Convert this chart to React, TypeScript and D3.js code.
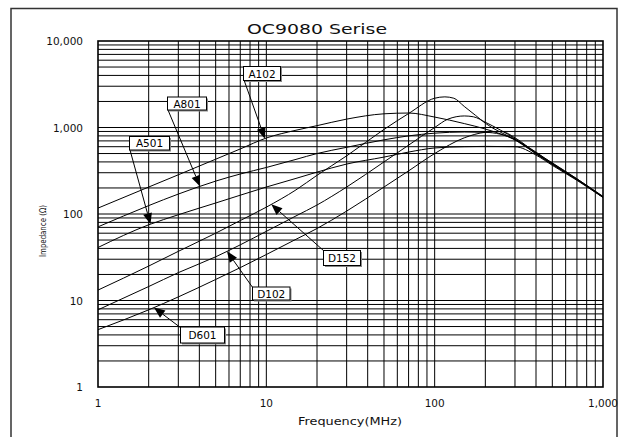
import * as d3 from 'd3';

type Pt = [number, number];

// impedance curves, [frequency MHz, impedance ohm]
const A102: Pt[] = [[1, 117], [2, 205], [3, 284], [5, 430], [7, 565], [10, 756], [15, 930], [20, 1050], [30, 1250], [50, 1440], [70, 1470], [100, 1320], [150, 1110], [200, 960], [300, 720], [400, 520], [500, 385], [700, 255], [1000, 158]];
const A801: Pt[] = [[1, 71], [2, 125], [3, 170], [5, 240], [7, 290], [10, 345], [15, 428], [20, 500], [30, 590], [50, 720], [70, 800], [100, 860], [150, 887], [200, 880], [300, 730], [400, 505], [500, 375], [700, 250], [1000, 157]];
const A501: Pt[] = [[1, 41], [2, 75], [3, 98], [5, 134], [7, 165], [10, 205], [15, 258], [20, 305], [30, 378], [50, 455], [70, 520], [100, 580], [150, 600], [200, 605], [300, 600], [400, 480], [500, 365], [700, 245], [1000, 155]];
const D152: Pt[] = [[1, 13.2], [2, 25], [3, 37], [5, 60], [7, 84], [10, 120], [15, 190], [20, 280], [30, 470], [50, 950], [70, 1450], [100, 2180], [115, 2260], [130, 2180], [150, 1750], [175, 1380], [200, 1120], [300, 720], [400, 500], [500, 380], [700, 250], [1000, 157]];
const D102: Pt[] = [[1, 7.8], [2, 14.5], [3, 21], [5, 32], [7, 44], [10, 63], [15, 95], [20, 127], [30, 205], [50, 400], [70, 625], [100, 1000], [120, 1250], [150, 1360], [170, 1330], [200, 1150], [300, 740], [400, 495], [500, 375], [700, 250], [1000, 156]];
const D601: Pt[] = [[1, 4.6], [2, 7.8], [3, 11], [5, 17.5], [7, 24], [10, 34], [15, 51], [20, 68], [30, 108], [50, 205], [70, 315], [100, 500], [150, 760], [200, 880], [250, 900], [300, 760], [400, 510], [500, 390], [700, 255], [1000, 160]];

const xTicks = [1, 10, 100, 1000];
const xTickLabels = ['1', '10', '100', '1,000'];
const yTicks = [1, 10, 100, 1000, 10000];
const yTickLabels = ['1', '10', '100', '1,000', '10,000'];

// callouts: box (pixels) and the frequency on the curve the arrow points at
const callouts = [
  { name: 'A102', data: A102, tipF: 9.8, box: [243.5, 66.5, 37, 14], from: [244, 80] },
  { name: 'A801', data: A801, tipF: 4.04, box: [167.5, 97, 39, 13], from: [168, 110] },
  { name: 'A501', data: A501, tipF: 2.05, box: [129.5, 136.5, 40, 13.5], from: [130, 150] },
  { name: 'D152', data: D152, tipF: 10.7, box: [323.5, 250.5, 37, 15], from: [324, 251] },
  { name: 'D102', data: D102, tipF: 5.84, box: [252.5, 287, 37.5, 13], from: [253, 288] },
  { name: 'D601', data: D601, tipF: 2.15, box: [180.5, 327, 44, 16], from: [181, 328] },
];

const W = 627;
const H = 437;
const L = 98, R = 603, T = 41, B = 387;
const FONT = '"DejaVu Sans", Arial, sans-serif';

const x = d3.scaleLog().domain([1, 1000]).range([L, R]);
const y = d3.scaleLog().domain([1, 10000]).range([B, T]);

const line = d3
  .line<Pt>()
  .x((d) => x(d[0]))
  .y((d) => y(d[1]))
  .curve(d3.curveMonotoneX);

// log-log interpolation of a curve at frequency f
function zAt(data: Pt[], f: number) {
  for (let i = 0; i < data.length - 1; i++) {
    const [f0, z0] = data[i];
    const [f1, z1] = data[i + 1];
    if (f >= f0 && f <= f1) {
      const t = (Math.log(f) - Math.log(f0)) / (Math.log(f1) - Math.log(f0));
      return Math.exp(Math.log(z0) + t * (Math.log(z1) - Math.log(z0)));
    }
  }
  return data[data.length - 1][1];
}

const gridX: number[] = [];
for (let d = 1; d < 1000; d *= 10) for (let k = 2; k <= 9; k++) gridX.push(d * k);
const gridY: number[] = [];
for (let d = 1; d < 10000; d *= 10) for (let k = 2; k <= 9; k++) gridY.push(d * k);
[10, 100].forEach((v) => gridX.push(v));
[10, 100, 1000].forEach((v) => gridY.push(v));

export default function App() {
  return (
    <div style={{ position: 'absolute', left: 0, top: 0 }}>
      <svg width={W} height={H} style={{ display: 'block', background: '#fff' }}>
        <rect x={11} y={8.5} width={606} height={440} fill="#fff" stroke="#333" strokeWidth={1.5} />

        <text x={317} y={34} textAnchor="middle" fontFamily={FONT} fontSize={14.5} textLength={140} lengthAdjust="spacingAndGlyphs" fill="#111">
          OC9080 Serise
        </text>

        <g stroke="#000" strokeWidth={1}>
          {gridX.map((v) => (
            <line key={'gx' + v} x1={x(v)} x2={x(v)} y1={T} y2={B} />
          ))}
          {gridY.map((v) => (
            <line key={'gy' + v} x1={L} x2={R} y1={y(v)} y2={y(v)} />
          ))}
        </g>

        <g fill="none" stroke="#000" strokeWidth={1}>
          {[A102, A801, A501, D152, D102, D601].map((s, i) => (
            <path key={i} d={line(s) ?? ''} />
          ))}
        </g>

        <rect x={L} y={T} width={R - L} height={B - T} fill="none" stroke="#000" strokeWidth={1.6} />

        {callouts.map((c) => {
          const tx = x(c.tipF);
          const ty = y(zAt(c.data, c.tipF));
          const [fx, fy] = c.from;
          const ang = Math.atan2(ty - fy, tx - fx);
          const len = 11;
          const hw = 4.5;
          const bx = tx - len * Math.cos(ang);
          const by = ty - len * Math.sin(ang);
          const px = -Math.sin(ang) * hw;
          const py = Math.cos(ang) * hw;
          const [rx, ry, rw, rh] = c.box;
          return (
            <g key={c.name}>
              <line x1={fx} y1={fy} x2={bx} y2={by} stroke="#000" strokeWidth={1} />
              <path d={`M${tx},${ty}L${bx + px},${by + py}L${bx - px},${by - py}Z`} fill="#000" />
              <rect x={rx + 1.5} y={ry + 1.5} width={rw} height={rh} fill="#888" />
              <rect x={rx} y={ry} width={rw} height={rh} fill="#fff" stroke="#000" strokeWidth={1} />
              <text x={rx + rw / 2} y={ry + rh / 2 + 4} textAnchor="middle" fontFamily={FONT} fontSize={10.5} fill="#000">
                {c.name}
              </text>
            </g>
          );
        })}

        {yTicks.map((v, i) => (
          <text key={'yt' + v} x={83} y={y(v) + 4} textAnchor="end" fontFamily={FONT} fontSize={10.5} fill="#111">
            {yTickLabels[i]}
          </text>
        ))}
        {xTicks.map((v, i) => (
          <text key={'xt' + v} x={x(v)} y={407} textAnchor="middle" fontFamily={FONT} fontSize={10.5} fill="#111">
            {xTickLabels[i]}
          </text>
        ))}

        <text x={350} y={425} textAnchor="middle" fontFamily={FONT} fontSize={10} textLength={104} lengthAdjust="spacingAndGlyphs" fill="#111">
          Frequency(MHz)
        </text>
        <text transform="translate(46,231) rotate(-90)" textAnchor="middle" fontFamily={FONT} fontSize={9} textLength={52} lengthAdjust="spacingAndGlyphs" fill="#111">
          Impedance (Ω)
        </text>
      </svg>
    </div>
  );
}
